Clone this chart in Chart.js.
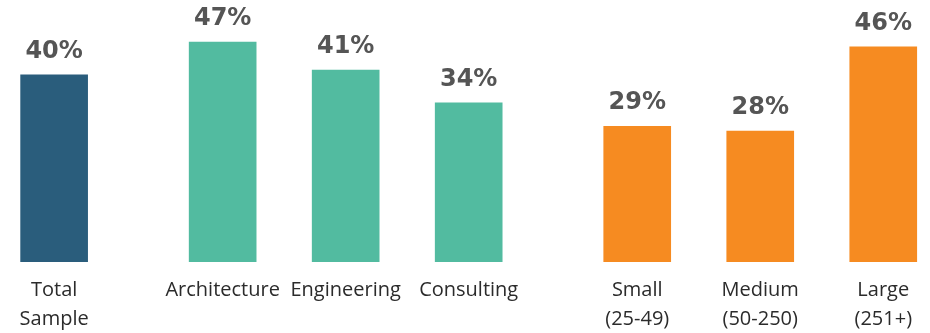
<!DOCTYPE html>
<html>
<head>
<meta charset="utf-8">
<script src="https://cdn.jsdelivr.net/npm/chart.js@4/dist/chart.umd.min.js"></script>
<style>
  html, body { margin: 0; padding: 0; background: #fff; }
  #wrap { width: 930px; height: 333px; position: relative; }
</style>
</head>
<body>
<div id="wrap"><canvas id="chart"></canvas></div>
<script>
// Share of firms, by segment
const categories = [
  ['Total', 'Sample'],
  ['Architecture'], ['Engineering'], ['Consulting'],
  ['Small', '(25-49)'], ['Medium', '(50-250)'], ['Large', '(251+)']
];
const values = [40, 47, 41, 34, 29, 28, 46];
const groups = [0, 1, 1, 1, 2, 2, 2];
const groupColors = ['#2a5d7c', '#52bba0', '#f68b21'];

// bars sit one unit apart, with a wider gap between groups
const GROUP_GAP = 0.37;
const xPos = values.map((v, i) => i + groups[i] * GROUP_GAP);

const valueLabels = {
  id: 'valueLabels',
  afterDatasetsDraw(chart) {
    const ctx = chart.ctx;
    const meta = chart.getDatasetMeta(0);
    ctx.save();
    ctx.font = 'bold 24px "DejaVu Sans"';
    ctx.fillStyle = '#555555';
    ctx.textAlign = 'center';
    ctx.textBaseline = 'alphabetic';
    meta.data.forEach((bar, i) => {
      ctx.fillText(values[i] + '%', bar.x, bar.y - 17);
    });
    ctx.restore();
  }
};

new Chart(document.getElementById('chart'), {
  type: 'bar',
  data: {
    datasets: [{
      data: values.map((v, i) => ({ x: xPos[i], y: v })),
      backgroundColor: groups.map(g => groupColors[g]),
      barThickness: 67,
      borderWidth: 0
    }]
  },
  options: {
    responsive: true,
    maintainAspectRatio: false,
    animation: false,
    layout: { padding: { top: 28, left: 0, right: 0, bottom: 0 } },
    plugins: { legend: { display: false }, tooltip: { enabled: false } },
    scales: {
      x: {
        type: 'linear',
        offset: false,
        min: -0.44,
        max: 7.12,
        grid: { display: false },
        border: { display: false },
        afterBuildTicks: s => { s.ticks = xPos.map(v => ({ value: v })); },
        afterFit: s => { s.height = 71; },
        ticks: {
          autoSkip: false,
          maxRotation: 0,
          padding: 6,
          color: '#2b2b2b',
          font: { family: 'Open Sans', size: 20, lineHeight: 1.45 },
          callback: v => {
            const i = xPos.findIndex(p => Math.abs(p - v) < 1e-6);
            return i >= 0 ? categories[i] : '';
          }
        }
      },
      y: {
        display: false,
        min: 0,
        max: 50
      }
    }
  },
  plugins: [valueLabels]
});
</script>
</body>
</html>
